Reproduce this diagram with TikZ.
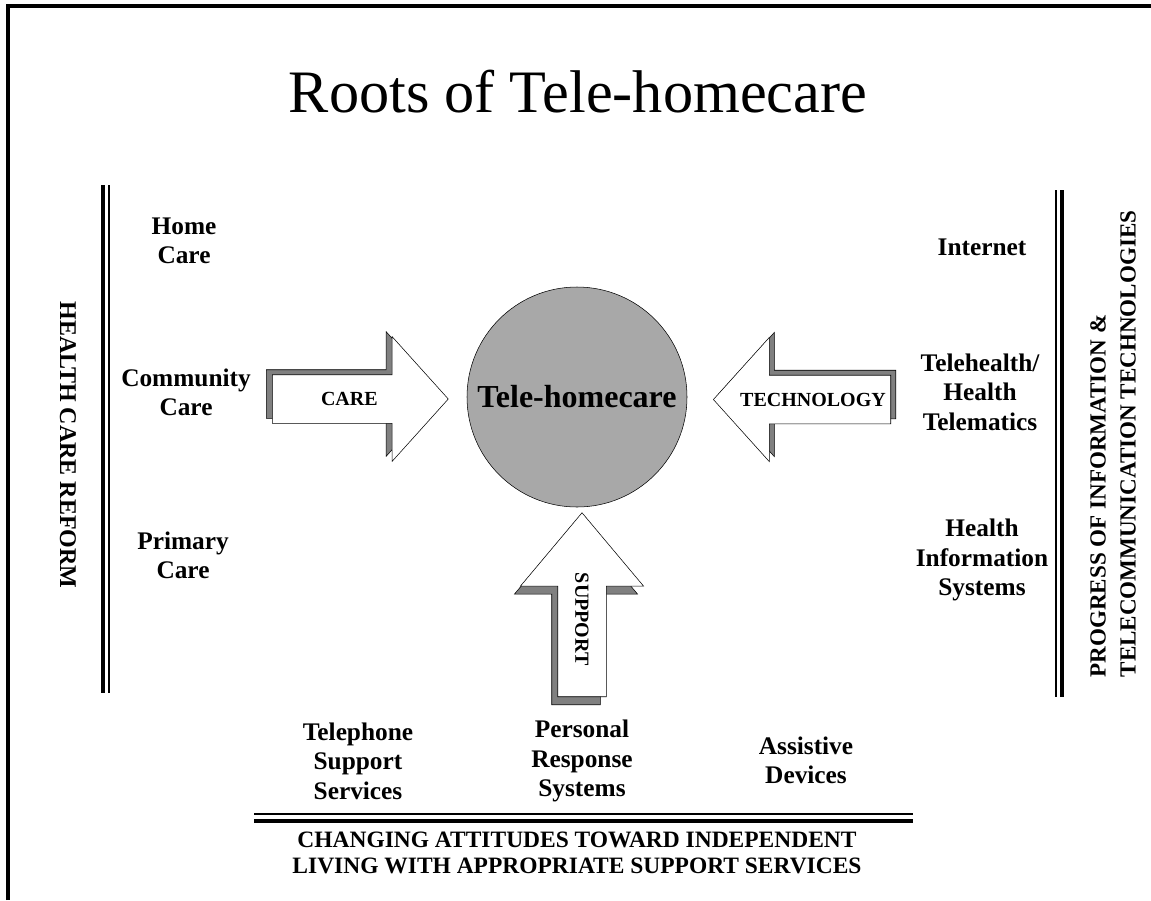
\documentclass[tikz,border=0pt]{standalone}
\usepackage{fontspec}
\setmainfont{Liberation Serif}
\usetikzlibrary{shapes.arrows}

\definecolor{discgray}{gray}{0.66}
\definecolor{shadegray}{gray}{0.5}

\begin{document}
\begin{tikzpicture}
  [x=0.75pt, y=-0.75pt,
  every node/.style={inner sep=0pt},
  rootlabel/.style={font=\bfseries\fontsize{19}{22}\selectfont, align=center},
  sidetitle/.style={font=\bfseries\fontsize{18}{22.5}\selectfont},
  blockarrow/.style={single arrow, draw=black, thin, fill=white,
    font=\bfseries\fontsize{15}{18}\selectfont,
    text height=10pt, text depth=0pt, inner xsep=2pt, inner ysep=13pt,
    single arrow head extend=28.5pt},
  arrowshade/.style={fill=shadegray},
  heavyrule/.style={line width=3pt},
  lightrule/.style={line width=1.5pt}]
  \useasboundingbox (0,0) rectangle (1151,900);

  % frame
  \draw[line width=3pt] (8,900) -- (8,6) -- (1151,6);

  \node[font=\fontsize{45.2}{50}\selectfont, anchor=base] (title) at (578,112) {Roots of Tele-homecare};

  % side rules
  \draw[heavyrule] (103,185) -- (103,693);
  \draw[lightrule] (109,185) -- (109,693);
  \draw[lightrule] (1056,190) -- (1056,697);
  \draw[heavyrule] (1061.5,190) -- (1061.5,697);
  \draw[lightrule] (254,814) -- (913,814);
  \draw[heavyrule] (254,820.5) -- (913,820.5);

  \node[sidetitle, rotate=-90] (reform) at (68,445) {HEALTH CARE REFORM};
  \node[sidetitle, rotate=90, align=left, font=\bfseries\fontsize{17.3}{22.5}\selectfont] (progress) at (1113,444)
    {PROGRESS OF INFORMATION \&\\TELECOMMUNICATION TECHNOLOGIES};
  \node[font=\bfseries\fontsize{17.6}{19.5}\selectfont, align=center] (attitudes) at (577,853)
    {CHANGING ATTITUDES TOWARD INDEPENDENT\\LIVING WITH APPROPRIATE SUPPORT SERVICES};

  % roots
  \node[rootlabel] (homecare) at (184,241) {Home\\Care};
  \node[rootlabel] (community) at (186,392) {Community\\Care};
  \node[rootlabel] (primary) at (183,555) {Primary\\Care};
  \node[rootlabel] (internet) at (982,247) {Internet};
  \node[rootlabel] (telehealth) at (980,392) {Telehealth/\\Health\\Telematics};
  \node[rootlabel] (infosys) at (982,560) {Health\\Information\\Systems};
  \node[rootlabel] (telephone) at (358,761) {Telephone\\Support\\Services};
  \node[rootlabel] (response) at (582,761) {Personal\\Response\\Systems};
  \node[rootlabel] (assistive) at (806,760) {Assistive\\Devices};

  \node[circle, draw, thin, fill=discgray, minimum size=165pt,
    font=\bfseries\fontsize{24}{28}\selectfont] (hub) at (577,397) {Tele-homecare};

  % arrows, shadow first
  \node[blockarrow, arrowshade, single arrow tip angle=96, minimum height=132pt, anchor=tail]
    (careshade) at (266,394) {};
  \node[blockarrow, single arrow tip angle=96, minimum height=132pt, anchor=tail]
    (care) at (272,399) {CARE};
  \node[blockarrow, arrowshade, shape border rotate=180, single arrow tip angle=96,
    minimum height=133pt, anchor=tail] (techshade) at (896,394.5) {};
  \node[blockarrow, shape border rotate=180, single arrow tip angle=96,
    minimum height=133pt, anchor=tail] (tech) at (891,399.5) {TECHNOLOGY};
  \node[blockarrow, arrowshade, shape border rotate=180, rotate=-90, single arrow tip angle=80,
    single arrow head extend=28pt, minimum height=138pt, anchor=tail] (supportshade) at (576,705) {};
  \node[blockarrow, shape border rotate=180, rotate=-90, single arrow tip angle=80,
    single arrow head extend=28pt, minimum height=138pt, anchor=tail] (support) at (582,697) {SUPPORT};
\end{tikzpicture}
\end{document}
